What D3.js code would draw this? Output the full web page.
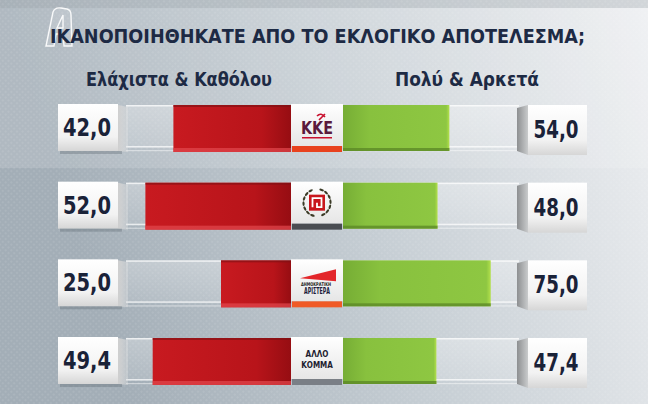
<!DOCTYPE html>
<html>
<head>
<meta charset="utf-8">
<script src="https://cdn.jsdelivr.net/npm/d3@7"></script>
<style>
  html, body { margin: 0; padding: 0; background: #d8dde1; }
  svg { display: block; }
  text { font-family: "Liberation Sans Narrow", "DejaVu Sans Condensed", "Roboto", sans-serif; font-weight: bold; }
</style>
</head>
<body>
<svg width="648" height="404"></svg>
<script>
// poll data
const title = "ΙΚΑΝΟΠΟΙΗΘΗΚΑΤΕ ΑΠΟ ΤΟ ΕΚΛΟΓΙΚΟ ΑΠΟΤΕΛΕΣΜΑ;";
const leftLabel = "Ελάχιστα & Καθόλου";
const rightLabel = "Πολύ & Αρκετά";
const parties = ["ΚΚΕ", "ΧΡΥΣΗ ΑΥΓΗ", "ΔΗΜΟΚΡΑΤΙΚΗ ΑΡΙΣΤΕΡΑ", "ΑΛΛΟ ΚΟΜΜΑ"];
const notSatisfied = [42.0, 52.0, 25.0, 49.4];
const satisfied = [54.0, 48.0, 75.0, 47.4];

var svg = d3.select("svg"),
    width = +svg.attr("width"),
    height = +svg.attr("height");

var defs = svg.append("defs");

function grad(id, stops, x2, y2) {
  var g = defs.append("linearGradient").attr("id", id)
      .attr("x1", 0).attr("y1", 0).attr("x2", x2).attr("y2", y2);
  stops.forEach(function(s) {
    g.append("stop").attr("offset", s[0]).attr("stop-color", s[1])
      .attr("stop-opacity", s[2] == null ? 1 : s[2]);
  });
}

grad("bg", [[0, "#a3aeb7"], [0.45, "#c6ced4"], [1, "#f1f2f4"]], 1, -0.2);
grad("red", [[0, "#c81a20"], [0.75, "#b8141a"], [1, "#960d12"]], 1, 0);
grad("green", [[0, "#76ad35"], [0.25, "#88c13e"], [0.97, "#8ec742"], [1, "#b3e04c"]], 1, 0);
grad("faceL", [[0, "#ffffff"], [0.7, "#f2f2f2"], [1, "#d6d6d6"]], 0, 1);
grad("sideL", [[0, "#cfcfcf"], [1, "#e6e6e6", 0.3]], 1, 0);
grad("sideR", [[0, "#8d8f91"], [1, "#c9cbcc"]], 1, 0);
grad("logo", [[0, "#ffffff"], [1, "#e6e6e6"]], 0, 1);
grad("track", [[0, "#ffffff", 0.3], [1, "#ffffff", 0.12]], 0, 1);

var pat = defs.append("pattern").attr("id", "dots")
    .attr("width", 4).attr("height", 4).attr("patternUnits", "userSpaceOnUse")
    .attr("patternTransform", "rotate(45)");
pat.append("circle").attr("cx", 1).attr("cy", 1).attr("r", 0.9).attr("fill", "#ffffff").attr("opacity", 0.12);

// background
svg.append("rect").attr("width", width).attr("height", height).attr("fill", "url(#bg)");
svg.append("rect").attr("y", 0).attr("width", width).attr("height", 168)
    .attr("fill", "#ffffff").attr("opacity", 0.14);
svg.append("rect").attr("width", width).attr("height", 8).attr("fill", "#9aa3aa").attr("opacity", 0.35);
svg.append("rect").attr("width", width).attr("height", height).attr("fill", "url(#dots)");

// channel logo
svg.append("path")
    .attr("d", "M46,46 L53,12 Q55,7 61,8 L67,9 Q71,10 71,15 L72,46 L64,46 L63,34 L56,34 L54,46 Z M57,28 L63,28 L63,15 Z")
    .attr("fill", "#ffffff").attr("fill-opacity", 0.12)
    .attr("stroke", "#ffffff").attr("stroke-opacity", 0.9).attr("stroke-width", 1.4);

// headings
svg.append("text").attr("x", 50).attr("y", 43)
    .attr("textLength", 535).attr("lengthAdjust", "spacingAndGlyphs")
    .attr("font-size", 20).attr("fill", "#1d2a44").text(title);
svg.append("text").attr("x", 86).attr("y", 86)
    .attr("textLength", 186).attr("lengthAdjust", "spacingAndGlyphs")
    .attr("font-size", 19).attr("fill", "#1d2a44").text(leftLabel);
svg.append("text").attr("x", 395).attr("y", 86)
    .attr("textLength", 144).attr("lengthAdjust", "spacingAndGlyphs")
    .attr("font-size", 19).attr("fill", "#1d2a44").text(rightLabel);

// scales
var xL = d3.scaleLinear().domain([0, 100]).range([291, 11]);
var xR = d3.scaleLinear().domain([0, 100]).range([343, 540]);
var y = d3.scalePoint().domain(parties).range([105, 338]);
var barH = 43;
var fmt = function(v) { return d3.format(".1f")(v).replace(".", ","); };

var rows = svg.selectAll("g.row").data(parties).enter().append("g")
    .attr("class", "row")
    .attr("transform", function(d) { return "translate(0," + y(d) + ")"; });

// tracks
rows.append("rect").attr("x", 126).attr("y", 0).attr("width", 165).attr("height", barH)
    .attr("fill", "url(#track)");
rows.append("rect").attr("x", 343).attr("y", 0).attr("width", 176).attr("height", barH)
    .attr("fill", "url(#track)");
[[126, 165], [343, 176]].forEach(function(t) {
  rows.append("rect").attr("x", t[0]).attr("y", 0).attr("width", t[1]).attr("height", 1.5)
      .attr("fill", "#ffffff").attr("opacity", 0.7);
  rows.append("rect").attr("x", t[0]).attr("y", barH - 2).attr("width", t[1]).attr("height", 1.5)
      .attr("fill", "#ffffff").attr("opacity", 0.7);
  rows.append("rect").attr("x", t[0]).attr("y", barH + 2).attr("width", t[1]).attr("height", 1.2)
      .attr("fill", "#ffffff").attr("opacity", 0.45);
});

// red bars
rows.append("rect")
    .attr("x", function(d, i) { return xL(notSatisfied[i]); })
    .attr("y", 0)
    .attr("width", function(d, i) { return xL(0) - xL(notSatisfied[i]); })
    .attr("height", barH + 4)
    .attr("fill", "url(#red)");
rows.append("rect")
    .attr("x", function(d, i) { return xL(notSatisfied[i]); })
    .attr("y", 0)
    .attr("width", function(d, i) { return xL(0) - xL(notSatisfied[i]); })
    .attr("height", 2).attr("fill", "#7c1014").attr("opacity", 0.6);
rows.append("rect")
    .attr("x", function(d, i) { return xL(notSatisfied[i]); })
    .attr("y", barH)
    .attr("width", function(d, i) { return xL(0) - xL(notSatisfied[i]); })
    .attr("height", 4).attr("fill", "#e2484e").attr("opacity", 0.7);

// green bars
rows.append("rect")
    .attr("x", xR(0)).attr("y", 0)
    .attr("width", function(d, i) { return xR(satisfied[i]) - xR(0); })
    .attr("height", barH + 3)
    .attr("fill", "url(#green)");
rows.append("rect")
    .attr("x", xR(0)).attr("y", barH)
    .attr("width", function(d, i) { return xR(satisfied[i]) - xR(0); })
    .attr("height", 3).attr("fill", "#5d8a27").attr("opacity", 0.8);

// left value boxes
rows.append("path").attr("d", "M118,0 L128,2 L128,47 L118,46 Z").attr("fill", "url(#sideL)");
rows.append("rect").attr("x", 58).attr("y", -1).attr("width", 60).attr("height", 47)
    .attr("fill", "url(#faceL)");
rows.append("rect").attr("x", 60).attr("y", 46).attr("width", 62).attr("height", 3)
    .attr("fill", "#5d6870").attr("opacity", 0.35);
rows.append("text").attr("x", 87).attr("y", 31)
    .attr("text-anchor", "middle").attr("font-size", 25).attr("fill", "#1a2238")
    .attr("textLength", 48).attr("lengthAdjust", "spacingAndGlyphs")
    .text(function(d, i) { return fmt(notSatisfied[i]); });

// right value boxes
rows.append("path").attr("d", "M517,3 L528,0 L528,50 L517,46 Z").attr("fill", "url(#sideR)");
rows.append("rect").attr("x", 528).attr("y", 0).attr("width", 59).attr("height", 50)
    .attr("fill", "url(#faceL)");
rows.append("text").attr("x", 556).attr("y", 33)
    .attr("text-anchor", "middle").attr("font-size", 25).attr("fill", "#1a2238")
    .attr("textLength", 45).attr("lengthAdjust", "spacingAndGlyphs")
    .text(function(d, i) { return fmt(satisfied[i]); });

// party logo boxes
var stripColors = ["#e8421e", "#4a4d52", "#f05a26", "#7a7f86"];
rows.append("rect").attr("x", 291).attr("y", -1).attr("width", 52).attr("height", 42)
    .attr("fill", "url(#logo)");
rows.append("rect").attr("x", 292).attr("y", 41).attr("width", 50).attr("height", 6)
    .attr("fill", function(d, i) { return stripColors[i]; });

// KKE
var g0 = rows.filter(function(d, i) { return i === 0; });
g0.append("text").attr("x", 317).attr("y", 29).attr("text-anchor", "middle")
    .attr("font-size", 17).attr("font-family", "DejaVu Sans").attr("fill", "#5a1a3c")
    .attr("textLength", 32).attr("lengthAdjust", "spacingAndGlyphs").text("ΚΚΕ");
g0.append("path").attr("d", "M317,11 q4,-4 8,1 M319,15 l6,-6").attr("stroke", "#c8102e")
    .attr("stroke-width", 1.6).attr("fill", "none");
g0.append("rect").attr("x", 302).attr("y", 32).attr("width", 30).attr("height", 1.5).attr("fill", "#c8102e");

// Golden Dawn
var g1 = rows.filter(function(d, i) { return i === 1; });
var gcx = 317, gcy = 20;
d3.range(7).forEach(function(k) {
  [110 + k * 22, -70 + k * 22].forEach(function(deg) {
    var a = deg * Math.PI / 180,
        px = gcx + 13.5 * Math.cos(a), py = gcy + 13.5 * Math.sin(a);
    g1.append("ellipse").attr("cx", px).attr("cy", py)
        .attr("rx", 1.1).attr("ry", 2.4)
        .attr("transform", "rotate(" + deg + "," + px + "," + py + ")")
        .attr("fill", "#3a3a26");
  });
});
g1.append("rect").attr("x", gcx - 8).attr("y", gcy - 8).attr("width", 16).attr("height", 16).attr("fill", "#c8161d");
g1.append("path").attr("d", "M" + (gcx - 4.5) + "," + (gcy + 4.5) + " v-9 h9 v9 h-4.5 v-4.5")
    .attr("stroke", "#ffffff").attr("stroke-width", 1.8).attr("fill", "none");

// Democratic Left
var g2 = rows.filter(function(d, i) { return i === 2; });
g2.append("path").attr("d", "M300,18 L336,9 L336,21 Z").attr("fill", "#e3262a");
g2.append("text").attr("x", 316).attr("y", 26).attr("text-anchor", "middle")
    .attr("font-size", 5).attr("fill", "#222").attr("textLength", 30)
    .attr("lengthAdjust", "spacingAndGlyphs").text("ΔΗΜΟΚΡΑΤΙΚΗ");
g2.append("text").attr("x", 317).attr("y", 34).attr("text-anchor", "middle")
    .attr("font-size", 9).attr("fill", "#1c1c3a").attr("textLength", 26)
    .attr("lengthAdjust", "spacingAndGlyphs").text("ΑΡΙΣΤΕΡΑ");

// Other party
var g3 = rows.filter(function(d, i) { return i === 3; });
g3.append("text").attr("x", 317).attr("y", 19).attr("text-anchor", "middle")
    .attr("font-size", 8).attr("fill", "#1d1d30").text("ΑΛΛΟ");
g3.append("text").attr("x", 317).attr("y", 30).attr("text-anchor", "middle")
    .attr("font-size", 8).attr("fill", "#1d1d30").text("ΚΟΜΜΑ");
</script>
</body>
</html>
